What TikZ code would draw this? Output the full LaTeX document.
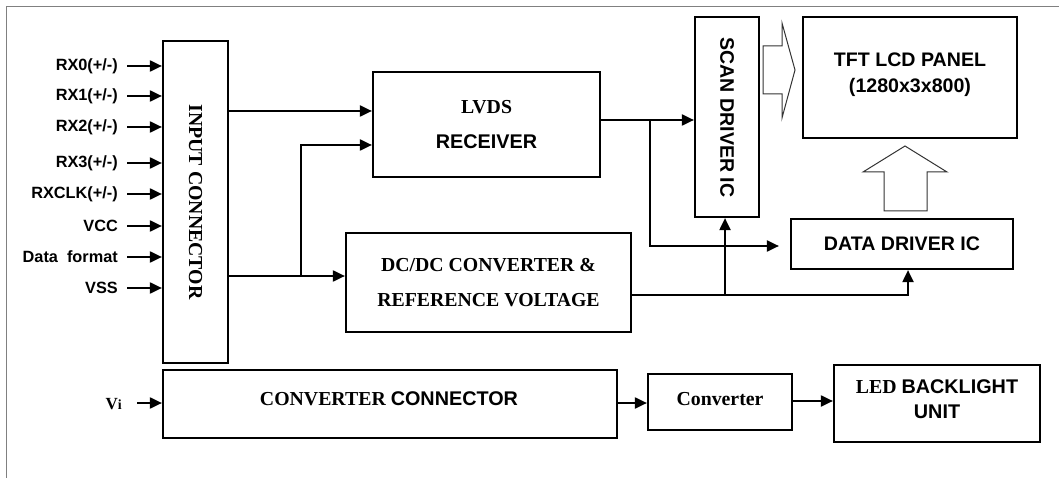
\documentclass[tikz,border=0pt]{standalone}
\usepackage{fontspec}
\setmainfont{Liberation Serif}
\setsansfont{Liberation Sans}
\usetikzlibrary{arrows.meta}
\begin{document}
\begin{tikzpicture}[x=1pt,y=-1pt,
  box/.style={draw=black,line width=2.2pt,inner sep=0pt},
  conn/.style={line width=2pt},
  arr/.style={conn,-{Triangle[length=12pt,width=11pt]}},
  sfb/.style={font=\fontsize{19.6}{22}\selectfont\sffamily\bfseries},
  rmb/.style={font=\fontsize{19.8}{22}\selectfont\rmfamily\bfseries},
  lab/.style={font=\fontsize{16.3}{18}\selectfont\sffamily\bfseries,anchor=east,inner sep=0pt},
  hollow/.style={draw=black!80,line width=1pt,line join=miter}]
\useasboundingbox (0,0) rectangle (1059,478);
\draw[gray,line width=1pt] (6,478) -- (6,7) -- (1059,7);
% boxes
\node[box,minimum width=65pt,minimum height=322pt] (inp) at (195.5,202) {};
\node[rmb,rotate=-90] (inptext) at (195.5,202) {INPUT CONNECTOR};
\node[box,minimum width=227pt,minimum height=105pt,align=center,font=\fontsize{19.8}{35}\selectfont\bfseries] (lvds) at (486.5,124.5) {{\rmfamily LVDS}\\{\sffamily RECEIVER}};
\node[box,minimum width=285pt,minimum height=99pt,align=center,font=\fontsize{19.8}{35}\selectfont\rmfamily\bfseries] (dcdc) at (488.5,282.5) {DC/DC CONVERTER \&\\REFERENCE VOLTAGE};
\node[box,minimum width=64pt,minimum height=200pt] (scan) at (727,117) {};
\node[sfb,rotate=-90] (scantext) at (727,117.5) {SCAN DRIVER IC};
\node[box,minimum width=214pt,minimum height=121pt] (tft) at (910,77.5) {};
\node[align=center,font=\fontsize{19.6}{26}\selectfont\sffamily\bfseries] (tfttext) at (910,75) {TFT LCD PANEL\\(1280x3x800)};
\node[box,minimum width=222pt,minimum height=50pt,sfb] (data) at (902,244) {DATA DRIVER IC};
\node[box,minimum width=454pt,minimum height=68pt] (cc) at (390,404) {};
\node[font=\fontsize{19.8}{22}\selectfont\bfseries] (cctext) at (389,399) {{\rmfamily CONVERTER} {\sffamily CONNECTOR}};
\node[box,minimum width=144pt,minimum height=56pt] (conv) at (720,402) {};
\node[rmb] (convtext) at (720,399) {Converter};
\node[box,minimum width=206pt,minimum height=77pt] (led) at (937,403.5) {};
\node[align=center,font=\fontsize{19.8}{25}\selectfont\bfseries] (ledtext) at (937,399.5) {{\rmfamily LED} {\sffamily BACKLIGHT}\\{\sffamily UNIT}};
% input labels
\foreach \n/\t/\y in {a/{RX0(+/-)}/66,b/{RX1(+/-)}/96,c/{RX2(+/-)}/127,d/{RX3(+/-)}/163,e/{RXCLK(+/-)}/194,f/{VCC}/226,g/{Data\ \ format}/257,h/{VSS}/288}{
  \node[lab] (l\n) at (118,\y) {\t};
  \coordinate (s\n) at (127,\y);
  \draw[arr] (s\n) -- (s\n -| inp.west);
}
\node[font=\fontsize{17}{20}\selectfont\rmfamily\bfseries,anchor=east,inner sep=0pt] (vi) at (122,404) {V\fontsize{14}{16}\selectfont i};
\coordinate (svi) at (137,403);
\draw[arr] (svi) -- (svi -| cc.west);
% connectors
\coordinate (o1) at (228,111);
\draw[arr] (o1) -- (o1 -| lvds.west);
\coordinate (o2) at (228,276);
\coordinate (j1) at (301,276);
\coordinate (j1t) at (301,145);
\draw[arr] (o2) -- (o2 -| dcdc.west);
\draw[arr] (j1) -- (j1t) -- (j1t -| lvds.west);
\coordinate (o3) at (601,120);
\draw[arr] (o3) -- (o3 -| scan.west);
\coordinate (j2) at (650,120);
\coordinate (j2b) at (650,246);
\draw[arr,shorten >=11pt] (j2) -- (j2b) -- (j2b -| data.west);
\coordinate (o4) at (631,295);
\coordinate (j3) at (908,295);
\draw[arr] (o4) -- (j3) -- (j3 |- data.south);
\coordinate (j4) at (725,295);
\draw[arr] (j4) -- (j4 |- scan.south);
\coordinate (o5) at (617,403);
\draw[arr] (o5) -- (o5 -| conv.west);
\coordinate (o6) at (792,401);
\draw[arr] (o6) -- (o6 -| led.west);
% hollow arrows
\draw[hollow] (763,46) -- (782,46) -- (782,23) -- (795,70) -- (782,118) -- (782,94) -- (763,94) -- cycle;
\draw[hollow] (884,211) -- (884,172) -- (863,172) -- (905,146) -- (947,172) -- (927,172) -- (927,211) -- cycle;
\end{tikzpicture}
\end{document}
